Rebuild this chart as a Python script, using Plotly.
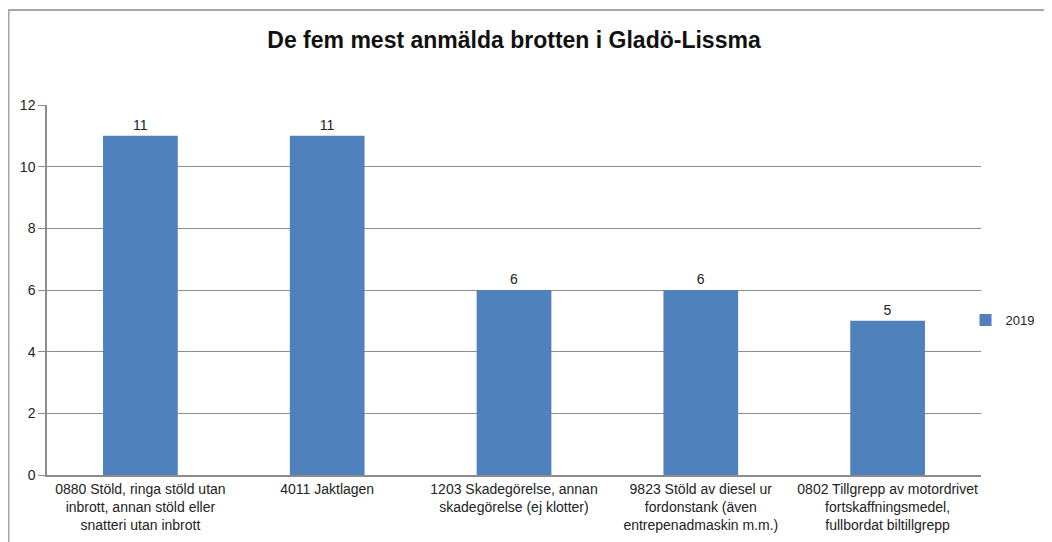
import plotly.graph_objects as go

categories = [
    "0880 Stöld, ringa stöld utan<br>inbrott, annan stöld eller<br>snatteri utan inbrott",
    "4011 Jaktlagen",
    "1203 Skadegörelse, annan<br>skadegörelse (ej klotter)",
    "9823 Stöld av diesel ur<br>fordonstank (även<br>entrepenadmaskin m.m.)",
    "0802 Tillgrepp av motordrivet<br>fortskaffningsmedel,<br>fullbordat biltillgrepp",
]
values_2019 = [11, 11, 6, 6, 5]
series_name = "2019"
title = "De fem mest anmälda brotten i Gladö-Lissma"

# page has an 8px body margin, so the figure is laid out in coordinates offset by 8px
OFF = 8
W, H = 1052 - OFF, 542 - OFF
ml, mt = 46.5 - OFF, 105 - OFF
mr = W - (981.5 - OFF)
mb = H - (475 - OFF)
pw = W - ml - mr
ph = H - mt - mb

def px(x):
    return (x - OFF - ml) / pw

def py(y):
    return 1 - (y - OFF - mt) / ph

font = "Liberation Sans, Arial, sans-serif"

fig = go.Figure()
fig.add_trace(go.Bar(
    x=categories, y=values_2019, name=series_name,
    marker=dict(color="#4f81bd", line=dict(width=0)),
    width=0.4,
    text=values_2019, textposition="outside",
    textfont=dict(size=14, color="#222222", family=font),
    cliponaxis=False,
))

fig.update_layout(
    width=W, height=H,
    margin=dict(l=ml, r=mr, t=mt, b=mb, autoexpand=False),
    paper_bgcolor="white", plot_bgcolor="white",
    title=dict(text="<b>" + title + "</b>", x=0.5, xref="paper", y=1 - (40 - OFF) / H, yanchor="middle",
               font=dict(size=23, color="#111111", family=font)),
    showlegend=True,
    legend=dict(x=px(966), y=py(320), xanchor="left", yanchor="middle",
                font=dict(size=13, color="#222222", family=font),
                itemwidth=30, bgcolor="rgba(0,0,0,0)"),
    bargap=0.6,
    font=dict(family=font, color="#222222"),
)
fig.update_xaxes(
    showgrid=False, showline=True, linecolor="#8c8c8c", linewidth=1.5,
    ticks="", tickfont=dict(size=14, color="#222222", family=font),
    tickangle=0, automargin=False,
)
fig.update_yaxes(
    range=[0, 12], dtick=2, showgrid=True, gridcolor="#8c8c8c", gridwidth=1.2,
    showline=True, linecolor="#8c8c8c", linewidth=1.5,
    ticks="outside", ticklen=7, tickcolor="#8c8c8c",
    tickfont=dict(size=14, color="#222222", family=font),
    zeroline=False, automargin=False,
)
# outer frame of the chart
fig.add_shape(type="rect", xref="paper", yref="paper",
              x0=px(8), x1=px(1080), y0=py(580), y1=py(10),
              line=dict(color="#a6a6a6", width=2), fillcolor="rgba(0,0,0,0)", layer="below")

fig.write_html("out.html")
